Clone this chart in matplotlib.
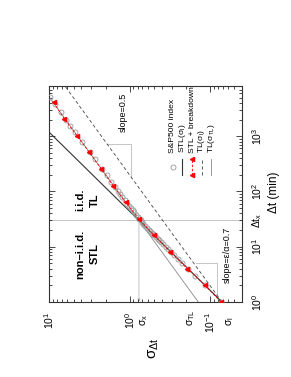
import numpy as np
import matplotlib.pyplot as plt
import matplotlib.transforms as mtransforms

plt.rcParams['font.family'] = ['Liberation Sans', 'DejaVu Sans']
plt.rcParams['mathtext.fontset'] = 'custom'
plt.rcParams['mathtext.rm'] = 'Liberation Sans'
plt.rcParams['mathtext.it'] = 'Liberation Sans:italic'
plt.rcParams['mathtext.bf'] = 'Liberation Sans:bold'

# S&P500 index: time scale (min) and volatility
dt_sp = [1, 2, 3, 4, 5, 6, 7, 8, 9, 10, 11, 12, 13, 14, 15, 16, 17, 18, 19, 20,
         22, 24, 26, 28, 30, 32, 35, 38, 42, 46, 50, 55, 60, 70, 80, 90, 100, 120,
         150, 195, 260, 390, 520, 780, 1170, 1560, 1950, 2730, 3900, 5200]
sig_sp = [0.074, 0.117, 0.153, 0.188, 0.222, 0.252, 0.279, 0.306, 0.332, 0.356,
          0.381, 0.404, 0.428, 0.449, 0.472, 0.493, 0.513, 0.533, 0.553, 0.572,
          0.606, 0.642, 0.676, 0.706, 0.736, 0.762, 0.800, 0.838, 0.880, 0.922,
          0.968, 1.02, 1.07, 1.16, 1.24, 1.32, 1.39, 1.53, 1.72, 1.95, 2.24,
          2.74, 3.16, 3.90, 4.78, 5.55, 6.26, 7.28, 8.55, 9.85]

# STL + breakdown model
dt_model = [1, 2, 4, 8, 16, 32, 64, 128, 256, 512, 1024, 2048, 4096]
sig_model = [0.0735, 0.115, 0.192, 0.312, 0.50, 0.77, 1.13, 1.62, 2.26, 3.19,
             4.56, 6.5, 8.9]

sigma_l = 0.0713
sigma_TL = 0.1406
sigma_x = 0.77
dt_x = 30
stl_slope = 0.7
tl_slope = 0.5

# slope marker legs (sigma, dt)
tri05_sig = [0.953, 0.953, 1.906]
tri05_dt = [179, 714, 714]
tri07_sig = [0.082, 0.082, 0.152]
tri07_dt = [1.22, 5.0, 5.0]

dt_line = np.array([1.0, 8000.0])

fig = plt.figure(figsize=(2.91, 3.77), dpi=100)
ax = fig.add_axes([0.170, 0.199, 0.662, 0.572])

grey = '#bbbbbb'
ax.axhline(dt_x, color=grey, lw=0.6, zorder=1)
ax.annotate('', xy=(sigma_x, 1), xytext=(sigma_x, dt_x),
            arrowprops=dict(arrowstyle='-|>', color=grey, lw=0.6,
                            mutation_scale=4, shrinkA=0, shrinkB=0), zorder=1)
ax.plot(tri05_sig, tri05_dt, color=grey, lw=0.6, zorder=1)
ax.plot(tri07_sig, tri07_dt, color=grey, lw=0.6, zorder=1)

ax.plot(sigma_l * dt_line ** stl_slope, dt_line, color='#333333', lw=0.8, zorder=2)
ax.plot(sigma_l * dt_line ** tl_slope, dt_line, color='#444444', lw=0.6,
        ls=(0, (4, 3)), zorder=2)
ax.plot(sigma_TL * dt_line ** tl_slope, dt_line, color='#888888', lw=0.6, zorder=2)

ax.plot(sig_sp, dt_sp, 'o', mfc='none', mec='#999999', ms=3.6, mew=0.6, zorder=3)
ax.plot(sig_model, dt_model, color='red', lw=0.6, ls=(0, (3, 2)), marker='<',
        ms=3, mec='red', mfc='red', zorder=4)

ax.set_xscale('log')
ax.set_yscale('log')
ax.set_xlim(10, 0.04)
ax.set_ylim(1, 8000)
ax.yaxis.tick_right()
ax.tick_params(which='both', direction='in', top=True, bottom=True, left=True,
               right=True, labelleft=False, labelright=True, labelsize=7.5,
               width=0.5)
ax.tick_params(which='major', length=4)
ax.tick_params(which='minor', length=2)
ax.tick_params(axis='x', labelrotation=90, pad=7)
ax.tick_params(axis='y', labelrotation=90, pad=6)
for lab in ax.get_yticklabels():
    lab.set_va('center')
for s in ax.spines.values():
    s.set_linewidth(0.8)
    s.set_color('#333333')

ax.set_xlabel(r'$\mathregular{σ_{Δt}}$', fontsize=11, rotation=90)
ax.xaxis.set_label_coords(0.54, -0.165)
ax.yaxis.set_label_position('right')
ax.set_ylabel('Δt (min)', fontsize=8.5, rotation=90)
ax.yaxis.set_label_coords(1.135, 0.51)

bx = mtransforms.blended_transform_factory(ax.transData, ax.transAxes)
by = mtransforms.blended_transform_factory(ax.transAxes, ax.transData)
ax.annotate(r'$\mathregular{σ_{x}}$', xy=(sigma_x, -0.11), xycoords=bx,
            xytext=(4, 0), textcoords='offset points', rotation=90,
            ha='center', va='bottom', fontsize=7.5)
ax.annotate(r'$\mathregular{σ_{TL}}$', xy=(sigma_TL, -0.11), xycoords=bx,
            xytext=(-5, 0), textcoords='offset points', rotation=90,
            ha='center', va='bottom', fontsize=7.5)
ax.annotate(r'$\mathregular{σ_{l}}$', xy=(sigma_l, -0.11), xycoords=bx,
            xytext=(6, 0), textcoords='offset points', rotation=90,
            ha='center', va='bottom', fontsize=7.5)
ax.text(1.04, dt_x, r'$\mathregular{Δt_{x}}$', transform=by, rotation=90,
        ha='left', va='center', fontsize=7.5)

ax.text(3.35, 70, 'i.i.d.\nTL', rotation=90, ha='center', va='center',
        fontsize=8, fontweight='bold', linespacing=1.5)
ax.text(3.35, 7.4, 'non–i.i.d.\nSTL', rotation=90, ha='center', va='center',
        fontsize=8, fontweight='bold', linespacing=1.5)
ax.text(1.22, 2700, 'slope=0.5', rotation=90, ha='center', va='center',
        fontsize=6.5)
ax.text(0.061, 7.1, 'slope=ε/α=0.7', rotation=90, ha='center', va='center',
        fontsize=6.5)

# legend, drawn by hand because it is rotated
leg_x = [0.640, 0.690, 0.740, 0.790, 0.840]
leg_lo, leg_hi, leg_txt = 0.59, 0.665, 0.69
leg_labels = ['S&P500 index', r'STL($\mathregular{σ_{l}}$)', 'STL + breakdown',
              r'TL($\mathregular{σ_{l}}$)', r'TL($\mathregular{σ_{TL}}$)']
ax.plot([leg_x[0]], [(leg_lo + leg_hi) / 2], 'o', mfc='none', mec='#999999',
        ms=3.6, mew=0.6, transform=ax.transAxes)
ax.plot([leg_x[1]] * 2, [leg_lo, leg_hi], color='#333333', lw=0.8,
        transform=ax.transAxes)
ax.plot([leg_x[2]] * 2, [leg_lo, leg_hi], color='red', lw=0.6, ls=(0, (3, 2)),
        marker='<', ms=3, mfc='red', mec='red', transform=ax.transAxes)
ax.plot([leg_x[3]] * 2, [leg_lo, leg_hi], color='#444444', lw=0.6,
        ls=(0, (4, 3)), transform=ax.transAxes)
ax.plot([leg_x[4]] * 2, [leg_lo, leg_hi], color='#888888', lw=0.6,
        transform=ax.transAxes)
for x, lab in zip(leg_x, leg_labels):
    ax.text(x, leg_txt, lab, rotation=90, ha='center', va='bottom', fontsize=6.1,
            transform=ax.transAxes)

fig.savefig('out.png', dpi=100)
